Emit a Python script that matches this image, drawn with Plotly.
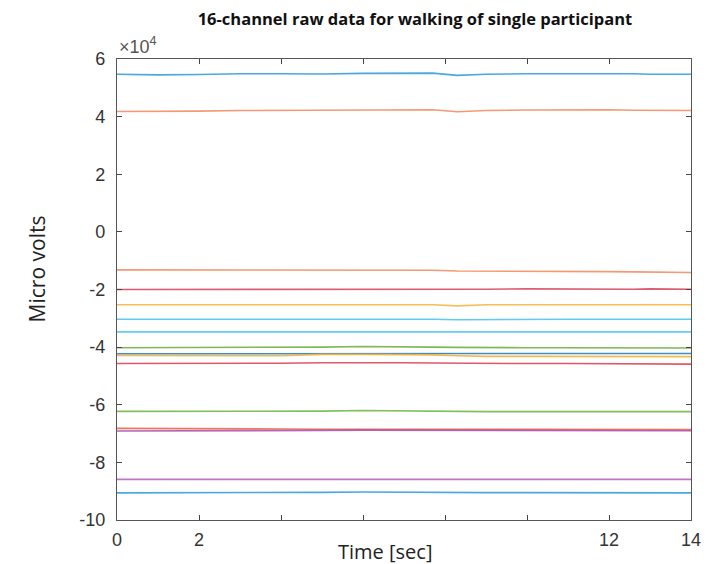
import plotly.graph_objects as go

# time samples (sec)
time_s = [0, 1, 2, 3, 4, 5, 6, 7, 7.7, 8.3, 9, 10, 11, 12, 12.6, 13, 14]

# 16 channel values (micro volts)
ch01 = [54700, 54500, 54600, 54900, 54900, 54800, 55000, 55000, 55100, 54300, 54700, 54900, 55000, 55000, 54900, 54700, 54700]
ch02 = [41800, 41800, 41900, 42100, 42200, 42200, 42300, 42300, 42400, 41700, 42100, 42300, 42400, 42400, 42200, 42100, 42100]
ch03 = [-13200, -13200, -13100, -13200, -13300, -13300, -13300, -13300, -13300, -13600, -13600, -13600, -13700, -13800, -13900, -14000, -14100]
ch04 = [-20000, -20000, -20000, -19900, -19900, -19900, -19900, -20000, -20100, -20100, -19900, -19800, -19900, -19900, -19900, -19800, -19900]
ch05 = [-25300, -25300, -25200, -25200, -25200, -25200, -25200, -25300, -25300, -25700, -25300, -25300, -25300, -25300, -25300, -25300, -25300]
ch06 = [-30300, -30300, -30300, -30300, -30300, -30200, -30300, -30300, -30300, -30500, -30400, -30300, -30300, -30300, -30300, -30300, -30300]
ch07 = [-34700, -34700, -34800, -34700, -34700, -34700, -34700, -34700, -34700, -34700, -34700, -34700, -34700, -34700, -34700, -34700, -34700]
ch08 = [-40200, -40200, -40200, -40100, -40100, -40000, -39800, -39800, -40000, -40100, -40200, -40200, -40200, -40200, -40300, -40300, -40300]
ch09 = [-42300, -42300, -42300, -42200, -42200, -42200, -42100, -42100, -42200, -42200, -42200, -42200, -42200, -42200, -42200, -42200, -42200]
ch10 = [-42900, -43000, -43000, -43000, -43000, -42500, -42500, -42600, -42700, -43000, -43200, -43200, -43200, -43200, -43200, -43300, -43300]
ch11 = [-45700, -45700, -45600, -45600, -45600, -45400, -45300, -45400, -45500, -45600, -45600, -45700, -45700, -45800, -45800, -45900, -45900]
ch12 = [-62300, -62300, -62300, -62300, -62200, -62200, -62000, -62200, -62200, -62500, -62400, -62400, -62400, -62400, -62400, -62400, -62400]
ch13 = [-68200, -68200, -68300, -68300, -68400, -68500, -68500, -68600, -68500, -68700, -68600, -68600, -68600, -68600, -68600, -68500, -68600]
ch14 = [-69100, -69100, -69100, -69000, -69000, -68900, -68800, -68800, -68800, -69000, -69000, -69000, -69000, -69000, -69000, -69000, -69000]
ch15 = [-85900, -85900, -85900, -85900, -85900, -85900, -85900, -85900, -85900, -86100, -85900, -85900, -85900, -85900, -85900, -85900, -85900]
ch16 = [-90600, -90600, -90500, -90500, -90400, -90400, -90300, -90400, -90400, -90600, -90500, -90500, -90500, -90500, -90500, -90500, -90600]

channels = [ch01, ch02, ch03, ch04, ch05, ch06, ch07, ch08,
            ch09, ch10, ch11, ch12, ch13, ch14, ch15, ch16]
colors = ["#2b9ad8", "#f4875f", "#f5875a", "#d8405c", "#f4b43c", "#45c3ec",
          "#48c6ee", "#68ad3c", "#1f78c0", "#f0b030", "#dc3c50", "#6ab43f",
          "#ee6040", "#a94bb0", "#b45cbc", "#2a9ad8"]

x_tickvals = [0, 2, 4, 6, 8, 10, 12, 14]
x_ticktext = ["0", "2", "", "", "", "", "12", "14"]
y_tickvals = [60000, 40000, 20000, 0, -20000, -40000, -60000, -80000, -100000]
y_ticktext = ["6", "4", "2", "0", "-2", "-4", "-6", "-8", "-10"]

fig = go.Figure()
for vals, col in zip(channels, colors):
    fig.add_trace(go.Scatter(x=time_s, y=vals, mode="lines",
                             line=dict(color=col, width=1.6), opacity=0.85,
                             showlegend=False))

axis_common = dict(showline=True, linecolor="#555555", linewidth=1.2, mirror="ticks",
                   ticks="inside", ticklen=5, tickcolor="#444444", showgrid=False,
                   zeroline=False,
                   tickfont=dict(family="Liberation Sans, Arial", size=18, color="#333333"))

fig.update_xaxes(range=[0, 14], tickvals=x_tickvals, ticktext=x_ticktext,
                 ticklabelstandoff=3, **axis_common)
fig.update_yaxes(range=[-100000, 60000], tickvals=y_tickvals, ticktext=y_ticktext,
                 ticklabelstandoff=7, **axis_common)

fig.update_layout(
    width=713, height=564,
    margin=dict(l=117, r=12, t=59, b=44),
    plot_bgcolor="white", paper_bgcolor="white",
    title=dict(text="<b>16-channel raw data for walking of single participant</b>",
               x=0.582, xref="container", xanchor="center",
               y=1 - 19 / 564, yref="container", yanchor="middle",
               font=dict(family="Open Sans, Lato", size=16.5, color="#111111")),
    annotations=[
        dict(text="×10<sup>4</sup>", xref="paper", yref="paper", x=0, y=1.0,
             xanchor="left", yanchor="bottom", showarrow=False,
             font=dict(family="Liberation Sans, Arial", size=18, color="#555555")),
        dict(text="Micro volts", xref="paper", yref="paper", x=-0.14, y=0.545,
             xanchor="center", yanchor="middle", textangle=-90, showarrow=False,
             font=dict(family="Open Sans, Lato", size=21, color="#222222")),
        dict(text="Time [sec]", xref="paper", yref="paper", x=0.467, y=-0.068,
             xanchor="center", yanchor="middle", showarrow=False,
             font=dict(family="Open Sans, Lato", size=20, color="#222222")),
    ],
)

fig.write_html("out.html")
